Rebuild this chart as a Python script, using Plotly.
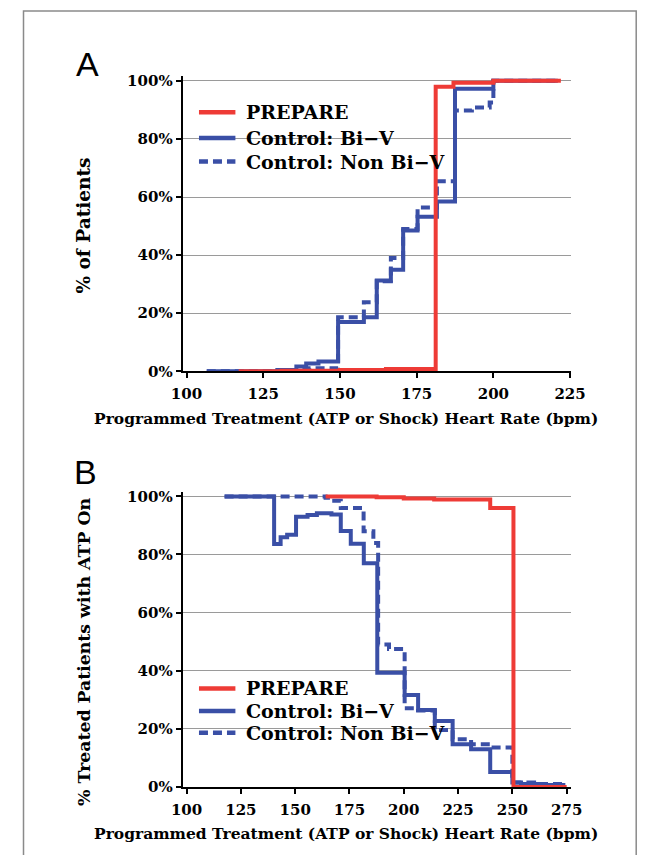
import plotly.graph_objects as go

# ---------------- data ----------------
# Panel A: cumulative % of patients by programmed treatment heart rate
prepare_a_x = [117, 131, 150, 165, 181.2, 187, 200, 222]
prepare_a_y = [0, 0.2, 0.5, 0.8, 98, 99.3, 100, 100]

biv_a_x = [106.6, 129.6, 135.8, 139, 143, 149.4, 157.8, 162, 166.6, 170.6, 175.3, 181.6, 187.5, 200, 221]
biv_a_y = [0, 0.5, 1.7, 2.7, 3.4, 17, 18.6, 31.3, 35, 48.5, 53.2, 58.5, 97.3, 100, 100]

nonbiv_a_x = [106.6, 130, 136, 140, 149.4, 157.8, 162, 166.6, 170.6, 175.3, 181.6, 187.5, 193, 198.8, 200, 221]
nonbiv_a_y = [0, 0.3, 0.8, 1.1, 18.6, 23.8, 31, 39, 49, 56.4, 65.4, 89.8, 90.8, 92.5, 100, 100]

# Panel B: % treated patients with ATP on by programmed treatment heart rate
prepare_b_x = [164, 187.5, 200, 214, 239.8, 250.5, 275]
prepare_b_y = [100, 99.7, 99.3, 98.9, 96, 0, 0]

biv_b_x = [117.5, 140.3, 143.3, 146.3, 150.4, 155.7, 160, 166.7, 171, 175.6, 181.6, 187.8,
           200.4, 206.6, 214.3, 222.5, 231, 239.8, 250, 254, 262, 274.4]
biv_b_y = [100, 83.6, 85.9, 86.8, 93, 93.6, 94.2, 93.8, 88.1, 83.7, 77, 39.3,
           31.6, 26.5, 22.7, 14.7, 13, 5.1, 1.5, 1.0, 0.7, 0.7]

nonbiv_b_x = [117.5, 164, 166, 171, 181.5, 186, 188.2, 193.2, 200.4, 206.6, 214.3, 222.5,
              231, 239.8, 250, 260, 274.4]
nonbiv_b_y = [100, 99.5, 98.5, 96, 88, 84, 49, 47.5, 27.1, 26.3, 19.6, 16.4,
              14.7, 13.6, 1.5, 1.0, 1.0]

series_names = ["PREPARE", "Control: Bi\u2212V", "Control: Non Bi\u2212V"]
tick_vals_pct = [0, 20, 40, 60, 80, 100]
x_title = "Programmed Treatment (ATP or Shock) Heart Rate (bpm)"
y_title_a = "% of Patients"
y_title_b = "% Treated Patients with ATP On"

# ---------------- style ----------------
RED = "#ee3b36"
BLUE = "#3a4fa6"
DASH = "9px,5px"
SERIF = "DejaVu Serif"
W, H = 656, 855


def px_x(p):
    return p / W


def px_y(p):
    return 1 - p / H


fig = go.Figure()
series_styles = [dict(color=RED, width=4), dict(color=BLUE, width=4),
                 dict(color=BLUE, width=4, dash=DASH)]


def panel(pre_x, pre_y, b_x, b_y, n_x, n_y, xaxis, yaxis):
    for x, y, name, st in [(n_x, n_y, series_names[2], series_styles[2]),
                           (b_x, b_y, series_names[1], series_styles[1]),
                           (pre_x, pre_y, series_names[0], series_styles[0])]:
        fig.add_trace(go.Scatter(x=x, y=y, mode="lines", line=dict(shape="hv", **st),
                                 name=name, xaxis=xaxis, yaxis=yaxis, showlegend=False,
                                 hoverinfo="skip"))


panel(prepare_a_x, prepare_a_y, biv_a_x, biv_a_y, nonbiv_a_x, nonbiv_a_y, "x", "y")
panel(prepare_b_x, prepare_b_y, biv_b_x, biv_b_y, nonbiv_b_x, nonbiv_b_y, "x2", "y2")

tickfont = dict(family=SERIF, size=15, color="black", weight="bold")
xcommon = dict(showline=True, linecolor="black", linewidth=2, ticks="outside", ticklen=5,
               tickwidth=2, tickcolor="black", dtick=25, tick0=100, showgrid=False,
               zeroline=False, tickfont=tickfont, ticklabelstandoff=3)
ycommon = dict(showline=True, linecolor="black", linewidth=2, ticks="outside", ticklen=5,
               tickwidth=2, tickcolor="black", tickvals=tick_vals_pct,
               ticktext=[f"{v}%" for v in tick_vals_pct], showgrid=True,
               gridcolor="#9a9a9a", gridwidth=1, zeroline=False, tickfont=tickfont,
               range=[0, 101.5])

fig.update_layout(
    width=W, height=H, margin=dict(l=0, r=0, t=0, b=0),
    paper_bgcolor="white", plot_bgcolor="white", showlegend=False,
    xaxis=dict(domain=[px_x(178), px_x(583)], range=[98.75, 225.3], anchor="y", **xcommon),
    yaxis=dict(domain=[px_y(373), px_y(373 - 101.5 * 2.95)], anchor="x", **ycommon),
    xaxis2=dict(domain=[px_x(178), px_x(583)], range=[98.2, 277], anchor="y2", **xcommon),
    yaxis2=dict(domain=[px_y(795), px_y(795 - 101.5 * 2.95)], anchor="x2", **ycommon),
)

titlefont = dict(family=SERIF, size=15.5, color="black", weight="bold")
common_ann = dict(xref="paper", yref="paper", showarrow=False, xanchor="center", yanchor="middle")
ann = [
    dict(text="A", x=px_x(79), y=px_y(61), font=dict(family="Liberation Sans", size=34, color="black"), **common_ann),
    dict(text="B", x=px_x(77), y=px_y(475), font=dict(family="Liberation Sans", size=34, color="black"), **common_ann),
    dict(text=y_title_a, x=px_x(75), y=px_y(225), textangle=-90,
         font=dict(family=SERIF, size=18.5, color="black", weight="bold"), **common_ann),
    dict(text=y_title_b, x=px_x(75), y=px_y(658), textangle=-90,
         font=dict(family=SERIF, size=17.3, color="black", weight="bold"), **common_ann),
    dict(text=x_title, x=px_x(348), y=px_y(421), font=titlefont, **common_ann),
    dict(text=x_title, x=px_x(348), y=px_y(842), font=titlefont, **common_ann),
]

# legends (drawn as sample lines + labels)
legfont = dict(family=SERIF, size=19, color="black", weight="bold")
shapes = []
for rows in ([110, 136, 160], [695, 718, 740]):
    for row, name, st in zip(rows, series_names, series_styles):
        shapes.append(dict(type="line", xref="paper", yref="paper",
                           x0=px_x(195), x1=px_x(233), y0=px_y(row), y1=px_y(row),
                           line=dict(color=st["color"], width=4.5, dash=st.get("dash", "solid"))))
        ann.append(dict(text=name, x=px_x(242), y=px_y(row), xref="paper", yref="paper",
                        showarrow=False, xanchor="left", yanchor="middle", font=legfont))

shapes.append(dict(type="rect", xref="paper", yref="paper", x0=px_x(12), x1=px_x(651),
                   y0=-0.05, y1=px_y(7), line=dict(color="#8a8a8a", width=1.5), layer="below"))
fig.update_layout(annotations=ann, shapes=shapes)

fig.write_html("out.html", config={"displayModeBar": False},
               post_script="document.body.style.margin='0';document.body.style.overflow='hidden';")
